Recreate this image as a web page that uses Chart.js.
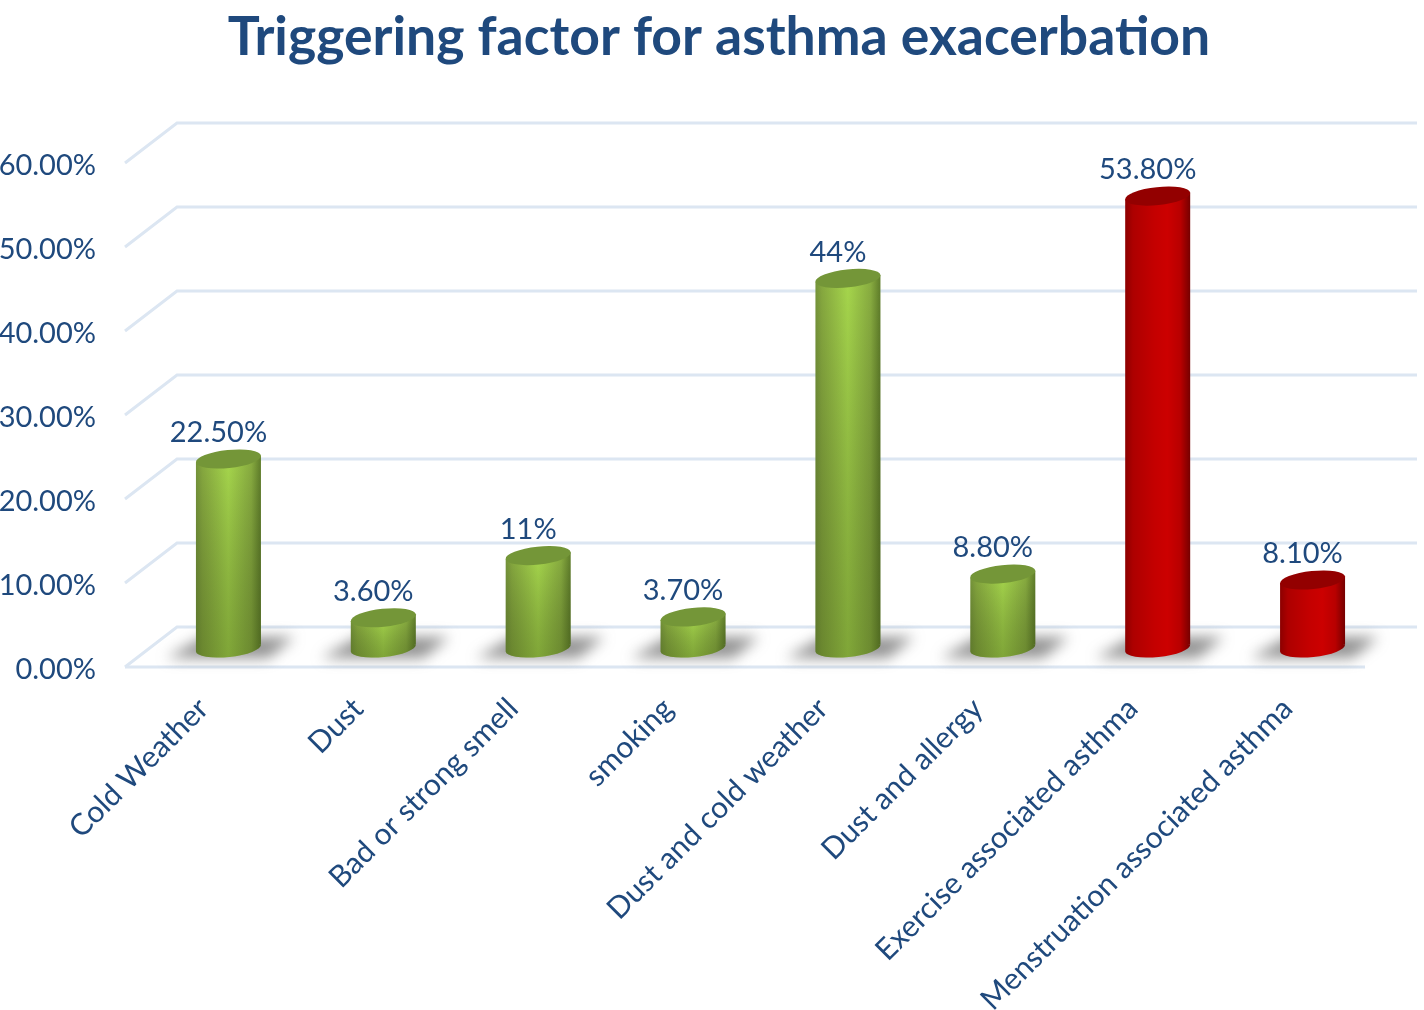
<!DOCTYPE html>
<html>
<head>
<meta charset="utf-8">
<title>Triggering factor for asthma exacerbation</title>
<script src="https://cdn.jsdelivr.net/npm/chart.js@4"></script>
<style>
  html, body { margin: 0; padding: 0; background: #fff; overflow: hidden; }
  #wrap { width: 1424px; height: 1010px; }
</style>
</head>
<body>
<div id="wrap"><canvas id="chart"></canvas></div>
<script>
const categories = ['Cold Weather', 'Dust', 'Bad or strong smell', 'smoking', 'Dust and cold weather',
    'Dust and allergy', 'Exercise associated asthma', 'Menstruation associated asthma'];
const values = [22.5, 3.6, 11, 3.7, 44, 8.8, 53.8, 8.1];
const valueLabels = ['22.50%', '3.60%', '11%', '3.70%', '44%', '8.80%', '53.80%', '8.10%'];
const barTones = ['green', 'green', 'green', 'green', 'green', 'green', 'red', 'red'];
const tickValues = [0, 10, 20, 30, 40, 50, 60];

const TEXT_COLOR = '#1F497D';
const GRID_COLOR = '#DCE6F2';
const FONT = 'Lato, "Open Sans", sans-serif';

const tones = {
    green: {
        side: [[0, '#75943a'], [0.1, '#86a83f'], [0.5, '#a6d64c'], [0.85, '#88ac40'], [1, '#5f7d2a']],
        cap: '#749638',
        fade: 'rgba(48,66,14,0.32)'
    },
    red: {
        side: [[0, '#8c0000'], [0.12, '#ad0000'], [0.45, '#c40000'], [0.65, '#cc0000'], [0.85, '#b80000'], [1, '#760000']],
        cap: '#930000',
        fade: 'rgba(60,0,0,0)'
    }
};

// grid is offset backwards like an Excel 3D floor/wall
const DEPTH_X = 52, DEPTH_Y = 40;

const wallGrid = {
    id: 'wallGrid',
    // title sits centred on the picture's plot, not on the canvas
    afterLayout(chart) {
        chart.titleBlock.left += 24;
        chart.titleBlock.right += 24;
    },
    beforeDatasetsDraw(chart) {
        const ctx = chart.ctx, scale = chart.scales.yLabels, left = 125;
        ctx.save();
        ctx.strokeStyle = GRID_COLOR;
        ctx.lineWidth = 3;
        tickValues.forEach(function (v) {
            const y = scale.getPixelForValue(v);
            ctx.beginPath();
            ctx.moveTo(left, y);
            ctx.lineTo(left + DEPTH_X, y - DEPTH_Y);
            ctx.lineTo(1417, y - DEPTH_Y);
            ctx.stroke();
        });
        const y0 = scale.getPixelForValue(0);
        ctx.beginPath();
        ctx.moveTo(left, y0);
        ctx.lineTo(1365, y0);
        ctx.stroke();
        ctx.restore();

        // floor shadows behind each cylinder
        const bars = chart.getDatasetMeta(0).data;
        ctx.save();
        ctx.filter = 'blur(7px)';
        ctx.fillStyle = 'rgba(90,90,90,0.66)';
        bars.forEach(function (el) {
            const x = el.x, b = el.base;
            ctx.beginPath();
            ctx.moveTo(x - 62, b + 10);
            ctx.lineTo(x - 25, b - 11);
            ctx.lineTo(x + 66, b - 11);
            ctx.lineTo(x + 40, b + 10);
            ctx.closePath();
            ctx.fill();
        });
        ctx.restore();
    }
};

function sidePaint(ctx, el, tone) {
    const half = el.width / 2;
    const g = ctx.createLinearGradient(el.x - half, 0, el.x + half, 0);
    tone.side.forEach(function (s) { g.addColorStop(s[0], s[1]); });
    return g;
}

const cylinders = {
    id: 'cylinders',
    afterDatasetsDraw(chart) {
        const ctx = chart.ctx;
        const tilt = -6 * Math.PI / 180;
        chart.getDatasetMeta(0).data.forEach(function (el, i) {
            const tone = tones[barTones[i]];
            const rx = el.width / 2, ry = 9, lean = 3.3;
            const x = el.x, top = el.y, base = el.base;

            ctx.save();
            ctx.beginPath();
            ctx.moveTo(x - rx, top + lean);
            ctx.lineTo(x + rx, top - lean);
            ctx.lineTo(x + rx, base - lean);
            ctx.lineTo(x - rx, base + lean);
            ctx.closePath();
            ctx.ellipse(x, base, rx + 0.2, ry, tilt, 0, Math.PI * 2);
            ctx.fillStyle = sidePaint(ctx, el, tone);
            ctx.fill();

            const fade = ctx.createLinearGradient(0, top, 0, base + ry);
            fade.addColorStop(0, 'rgba(0,0,0,0)');
            fade.addColorStop(1, tone.fade);
            ctx.fillStyle = fade;
            ctx.fill();

            ctx.beginPath();
            ctx.ellipse(x, top, rx + 0.2, ry, tilt, 0, Math.PI * 2);
            ctx.fillStyle = tone.cap;
            ctx.fill();
            ctx.restore();

            ctx.save();
            ctx.font = '29px ' + FONT;
            ctx.fillStyle = TEXT_COLOR;
            ctx.textAlign = 'center';
            ctx.textBaseline = 'middle';
            ctx.fillText(valueLabels[i], x - 10, top - 26);
            ctx.restore();
        });
    }
};

new Chart(document.getElementById('chart'), {
    type: 'bar',
    data: {
        labels: categories,
        datasets: [{
            data: values,
            yAxisID: 'y',
            barThickness: 65,
            backgroundColor: 'rgba(0,0,0,0)'
        }]
    },
    options: {
        responsive: true,
        maintainAspectRatio: false,
        animation: false,
        layout: { padding: { left: 0, right: 34, top: 0, bottom: 0 } },
        plugins: {
            legend: { display: false },
            tooltip: { enabled: false },
            title: {
                display: true,
                text: 'Triggering factor for asthma exacerbation',
                color: TEXT_COLOR,
                font: { family: FONT, size: 53.5, weight: 'bold', lineHeight: 1.2 },
                padding: { top: 6, bottom: 52.8 }
            }
        },
        scales: {
            x: {
                grid: { display: false },
                border: { display: false },
                afterFit(scale) { scale.height = 343; },
                ticks: {
                    autoSkip: false,
                    maxRotation: 45,
                    minRotation: 45,
                    padding: 16,
                    labelOffset: -25,
                    color: TEXT_COLOR,
                    font: { family: FONT, size: 30 }
                }
            },
            // bars stand on the floor plane, 19px behind the front axis line
            y: {
                display: false,
                min: -2.26,
                max: 62.5
            },
            yLabels: {
                position: 'left',
                min: 0,
                max: 64.76,
                grid: { display: false },
                border: { display: false },
                afterFit(scale) { scale.width = 151; },
                afterBuildTicks(scale) { scale.ticks = tickValues.map(function (v) { return { value: v }; }); },
                ticks: {
                    padding: 47,
                    labelOffset: 3,
                    color: TEXT_COLOR,
                    font: { family: FONT, size: 29 },
                    callback: function (v) { return v.toFixed(2) + '%'; }
                }
            }
        }
    },
    plugins: [wallGrid, cylinders]
});
</script>
</body>
</html>
